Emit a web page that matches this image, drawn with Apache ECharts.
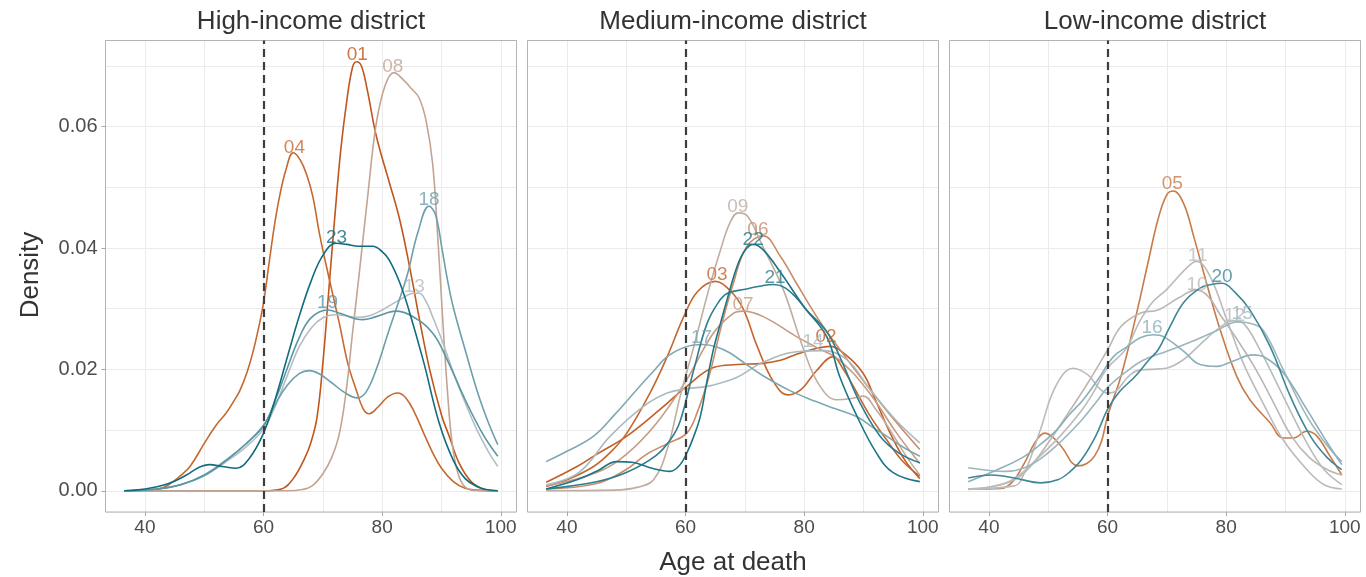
<!DOCTYPE html>
<html><head><meta charset="utf-8">
<script src="https://cdn.jsdelivr.net/npm/echarts@6/dist/echarts.min.js"></script>
<style>html,body{margin:0;padding:0;background:#fff}#c{width:1366px;height:577px}</style>
</head><body><div id="c"></div>
<script>
// ---------------- data ----------------
const panelTitles = ['High-income district', 'Medium-income district', 'Low-income district'];
const highIncome = ['01', '04', '08', '13', '18', '19', '23'];
const mediumIncome = ['02', '03', '06', '07', '09', '14', '17', '21', '22'];
const lowIncome = ['05', '10', '11', '12', '15', '16', '20'];
const xTicks = [40, 60, 80, 100];
const yTicks = [0, 0.02, 0.04, 0.06];
const thresholdAge = 60;
const xTitle = 'Age at death';
const yTitle = 'Density';

// density curves: [age, density]
const d01 = [[36.5,0],[50,0],[60,0],[63,0.0003],[65,0.002],[67,0.0055],[68,0.008],[69,0.012],[70,0.021],[71,0.033],[72,0.045],[73,0.056],[74,0.064],[75,0.0698],[75.7,0.0707],[76.5,0.0700],[77.5,0.066],[79,0.0585],[81,0.0515],[83,0.0445],[85,0.035],[86.2,0.0287],[88,0.020],[90,0.0125],[91.3,0.009],[93,0.0045],[95,0.0015],[97,0.0003],[99.5,0]];
const d04 = [[36.5,0],[42,0.0002],[44,0.001],[46,0.0025],[47.6,0.004],[50,0.0078],[52,0.0108],[53.7,0.0128],[55,0.0148],[56,0.0165],[57.2,0.0195],[58.2,0.0228],[59.2,0.027],[60,0.031],[61,0.038],[61.8,0.0435],[62.7,0.0485],[63.8,0.053],[65,0.0557],[66.2,0.0545],[67.3,0.052],[68.3,0.0485],[69.5,0.042],[71.1,0.0348],[72.8,0.0275],[74.2,0.021],[75.6,0.0167],[76.8,0.0135],[77.8,0.0127],[79.3,0.0138],[81,0.0155],[82.6,0.0161],[84,0.0153],[85.5,0.0128],[87,0.0095],[88.5,0.0063],[90,0.0037],[92,0.0015],[94,0.0004],[96,0.0001],[99.5,0]];
const d08 = [[36.5,0],[50,0],[64,0],[66.5,0.0002],[68.2,0.0008],[70,0.0028],[71.5,0.0055],[72.8,0.0095],[74,0.017],[75,0.026],[76.1,0.0355],[77.5,0.048],[79,0.0605],[80.5,0.0668],[82,0.0689],[83.5,0.0678],[85,0.0662],[86.2,0.0648],[87.4,0.061],[88.5,0.054],[89.3,0.043],[90.1,0.030],[91,0.0165],[91.8,0.0078],[92.8,0.0028],[94,0.0006],[96,0],[99.5,0]];
const d13 = [[36.5,0],[42,0.0003],[46,0.001],[50,0.0025],[54,0.005],[57,0.0072],[60,0.0102],[62,0.014],[64,0.019],[66,0.0237],[68,0.0268],[70,0.0285],[72,0.029],[76,0.0286],[78,0.0289],[80,0.0298],[83,0.0315],[85,0.0325],[86.2,0.0326],[87.5,0.031],[88.5,0.0287],[90,0.025],[92,0.0195],[94,0.0145],[96,0.010],[98,0.0063],[99.5,0.004]];
const d18 = [[36.5,0],[42,0.0003],[46,0.001],[50,0.0025],[54,0.0052],[57,0.0077],[60,0.0108],[62,0.0143],[64,0.0174],[66,0.0193],[67.7,0.0198],[69.5,0.0192],[71.5,0.0178],[73.5,0.0163],[75.8,0.0153],[77.3,0.0163],[79,0.020],[81,0.026],[82.9,0.0315],[84.3,0.0358],[86,0.0425],[87.9,0.0469],[89,0.0455],[90.1,0.0398],[91,0.0348],[92,0.0302],[94,0.0232],[96,0.0165],[98,0.011],[99.5,0.0076]];
const d19 = [[36.5,0],[42,0.0003],[46,0.001],[50,0.0026],[54,0.0053],[57,0.0077],[60,0.0107],[62,0.015],[64,0.0202],[66,0.0252],[68,0.0285],[70.8,0.0298],[73,0.0292],[76.7,0.0282],[79,0.0287],[82.3,0.0296],[85,0.0288],[88.5,0.026],[91,0.0215],[94,0.015],[97,0.0093],[99.5,0.0057]];
const d23 = [[36.5,0],[40,0.0003],[44,0.0012],[47,0.0026],[49,0.0038],[50.9,0.0043],[53,0.004],[55.4,0.0037],[57.5,0.0052],[60,0.0095],[62,0.0152],[64,0.022],[66,0.0287],[68,0.0345],[70,0.0388],[72.2,0.0408],[74,0.0406],[76,0.0403],[78.4,0.0403],[80,0.0394],[81.2,0.038],[83,0.0342],[84.5,0.0298],[87,0.0212],[89.6,0.0112],[92,0.005],[94,0.002],[96,0.0007],[97.5,0.0002],[99.5,0]];

const d02 = [[36.5,0.0014],[41.7,0.004],[45,0.006],[50.1,0.009],[55.7,0.0134],[60.2,0.0172],[64.7,0.0203],[68.7,0.0208],[73,0.021],[76,0.0215],[78.7,0.0225],[81.5,0.0233],[84.4,0.0238],[86.5,0.0228],[89.9,0.0194],[92,0.015],[94.5,0.0095],[97,0.005],[99.5,0.002]];
const d03 = [[36.5,0.0007],[40,0.0018],[44.5,0.004],[47.5,0.0065],[50.1,0.0095],[54,0.0161],[56.9,0.0221],[59.7,0.0287],[62,0.0328],[65,0.0345],[67.5,0.033],[69.7,0.030],[72,0.024],[74.8,0.018],[77.3,0.0158],[79.5,0.0167],[82,0.0197],[84.9,0.0221],[86.5,0.0202],[88.3,0.0172],[91,0.0125],[93.9,0.0084],[96.5,0.005],[99.5,0.0024]];
const d06 = [[36.5,0.0003],[45,0.0012],[50,0.0035],[53.4,0.006],[57,0.0078],[60.2,0.0095],[62,0.013],[64,0.019],[66,0.027],[68,0.034],[70.3,0.0402],[73.1,0.042],[76,0.0386],[78.7,0.0342],[82.1,0.0287],[86,0.0233],[91.1,0.0167],[95.6,0.0112],[99.5,0.0068]];
const d07 = [[36.5,0.0008],[45,0.003],[50,0.006],[55,0.011],[60,0.018],[64.7,0.026],[68,0.0292],[69.7,0.0296],[73.1,0.0287],[78.7,0.0254],[82.1,0.0236],[86,0.0215],[91.1,0.016],[95.6,0.0095],[99.5,0.0045]];
const d09 = [[36.5,0],[48,0.0001],[52,0.0006],[54.6,0.0018],[56.9,0.0068],[59.1,0.0156],[61.4,0.0238],[63.9,0.0331],[65.9,0.0397],[67.5,0.0442],[68.9,0.0458],[70.5,0.0452],[73,0.0403],[76.5,0.0331],[79.9,0.0233],[82.5,0.0175],[85.5,0.015],[88,0.0152],[90,0.0156],[92,0.0135],[94.5,0.010],[97,0.006],[99.5,0.0026]];
const d14 = [[36.5,0.001],[42,0.003],[47.3,0.009],[52.9,0.0139],[56.9,0.0161],[60.2,0.0168],[63.6,0.0172],[66,0.0178],[68.7,0.0187],[73.1,0.0212],[78.7,0.0229],[83.2,0.0231],[87.2,0.0216],[91.1,0.0167],[95.6,0.0115],[99.5,0.0079]];
const d17 = [[36.5,0.0048],[40,0.0065],[44.5,0.009],[48,0.0125],[51.8,0.0167],[54.5,0.0196],[56.9,0.0221],[60,0.0237],[63,0.0241],[65.5,0.0236],[67.5,0.0227],[70,0.021],[73,0.019],[77.6,0.0165],[82,0.0147],[85,0.0136],[88.9,0.0122],[91.5,0.0105],[93.9,0.009],[97,0.007],[99.5,0.0057]];
const d21 = [[36.5,0.0003],[45,0.0015],[50,0.003],[55,0.0058],[57.5,0.0085],[59.1,0.0115],[61.4,0.020],[63.6,0.0275],[65.5,0.031],[67,0.0325],[70,0.0332],[72.5,0.0337],[74.8,0.034],[76.5,0.0336],[78.5,0.032],[80.4,0.0298],[83.8,0.0262],[86,0.0221],[89.4,0.0145],[92.8,0.009],[96,0.0062],[99.5,0.0046]];
const d22 = [[36.5,0.0003],[41.7,0.0018],[45,0.0032],[48.4,0.0048],[51,0.0047],[54,0.0038],[57.4,0.0032],[59,0.0042],[60.2,0.0062],[61.4,0.009],[62.5,0.0123],[63.6,0.018],[64.7,0.0233],[66,0.028],[67,0.0315],[68.7,0.037],[70,0.0396],[71.4,0.0406],[73.1,0.0397],[76,0.036],[79.9,0.0304],[83.8,0.0254],[86,0.0188],[88.9,0.0123],[92.2,0.0062],[95,0.003],[99.5,0.0015]];

const d05 = [[36.5,0.0003],[42.1,0.0004],[44,0.0015],[46,0.0046],[47.8,0.008],[49.4,0.0095],[50.8,0.0088],[52.2,0.0073],[55,0.0041],[56.5,0.0045],[57.8,0.0057],[59,0.0082],[60,0.0123],[62.3,0.019],[64.6,0.028],[66.8,0.0375],[68.5,0.0447],[70,0.0488],[71.1,0.0494],[72.8,0.0474],[74.5,0.042],[76.7,0.0342],[79,0.0265],[81.8,0.0188],[84,0.015],[87.4,0.0112],[89.6,0.0087],[91.3,0.0087],[93.6,0.0098],[95.3,0.009],[97.5,0.0057],[99.5,0.0026]];
const d10 = [[36.5,0.0003],[40,0.0006],[44.3,0.0018],[47,0.004],[50,0.0079],[53.5,0.013],[56.7,0.0178],[60,0.0232],[62.3,0.0271],[65.6,0.0293],[68.5,0.0298],[72,0.0318],[75,0.0331],[77,0.032],[79,0.029],[81.8,0.025],[85,0.020],[88,0.0145],[91,0.009],[94,0.0055],[97,0.0035],[99.5,0.0026]];
const d11 = [[36.5,0.0002],[42,0.001],[45,0.0025],[48.6,0.0057],[52,0.009],[55.3,0.0128],[57.5,0.016],[59.8,0.020],[63.2,0.0235],[65.3,0.0277],[67.5,0.031],[69.9,0.0331],[73.3,0.0367],[75,0.0378],[77.3,0.0353],[80.1,0.0282],[82.9,0.021],[86.2,0.0145],[89.6,0.0084],[93.6,0.0035],[96.5,0.001],[99.5,0.0003]];
const d12 = [[36.5,0.0003],[44.3,0.0008],[46,0.003],[47.7,0.0073],[49,0.011],[50.5,0.0156],[52.5,0.0192],[54.2,0.0202],[56.7,0.0191],[58.5,0.017],[60,0.0161],[61.5,0.0165],[63.2,0.0185],[65,0.0198],[67.1,0.020],[69.9,0.0202],[72.8,0.0216],[75.5,0.024],[78.4,0.0265],[81.2,0.028],[83,0.0275],[85.7,0.0232],[89.6,0.0156],[93.6,0.0079],[96.5,0.0035],[99.5,0.001]];
const d15 = [[36.5,0.0038],[42.9,0.0032],[46,0.0038],[49,0.0055],[52,0.008],[55.5,0.0115],[58,0.0145],[60,0.017],[63,0.0195],[66,0.0215],[70,0.023],[74,0.0245],[78,0.0262],[82,0.0278],[84,0.0276],[86.2,0.0265],[89.6,0.020],[93.6,0.0123],[97,0.0075],[99.5,0.0048]];
const d16 = [[36.5,0.0015],[41.5,0.0035],[45.7,0.0055],[48.5,0.0075],[51.4,0.010],[53.5,0.0125],[55.9,0.015],[58.5,0.0185],[61,0.0221],[63.4,0.0238],[65.5,0.0252],[67.7,0.0257],[69.4,0.0254],[72.8,0.023],[75.6,0.0208],[78.4,0.0205],[81,0.0213],[84.5,0.0224],[86.5,0.022],[89.6,0.0195],[93.6,0.0134],[97,0.008],[99.5,0.0043]];
const d20 = [[36.5,0.0021],[40.4,0.0026],[44.3,0.0021],[48.8,0.0013],[51.6,0.0018],[53.5,0.003],[55.6,0.0051],[58,0.009],[60,0.0134],[62,0.0163],[64.6,0.0188],[67,0.0216],[68.5,0.0232],[70.5,0.027],[72.8,0.031],[75.6,0.0334],[77.5,0.034],[79.3,0.0342],[81.5,0.0327],[84,0.0298],[87.4,0.0238],[90.8,0.0156],[94.2,0.009],[97,0.0055],[99.5,0.0035]];

// label positions (district, age, density)
const labelDistricts = ['01','02','03','04','05','06','07','08','09','10','11','12','13','14','15','16','17','18','19','20','21','22','23'];
const labelAge =     [75.8, 83.7, 65.3, 65.2, 70.9, 72.2, 69.7, 81.8, 68.8, 75.1, 75.2, 81.4, 85.4, 81.5, 82.7, 67.5, 62.7, 87.9, 70.8, 79.3, 75.1, 71.4, 72.3];
const labelDensity = [0.0719, 0.0254, 0.0356, 0.0566, 0.0506, 0.043, 0.0307, 0.0698, 0.0468, 0.034, 0.0388, 0.0289, 0.0336, 0.0246, 0.0292, 0.0269, 0.0252, 0.048, 0.031, 0.0353, 0.0351, 0.0414, 0.0417];

// ---------------- styling ----------------
const curves = {'01':d01,'02':d02,'03':d03,'04':d04,'05':d05,'06':d06,'07':d07,'08':d08,'09':d09,'10':d10,'11':d11,'12':d12,'13':d13,'14':d14,'15':d15,'16':d16,'17':d17,'18':d18,'19':d19,'20':d20,'21':d21,'22':d22,'23':d23};
const palette = {
  '01':'#c0561c','02':'#c25e26','03':'#c4672f','04':'#c5692f','05':'#c77b48',
  '06':'#c98c68','07':'#c79b83','08':'#c3a492','09':'#c0ada1','10':'#bdb6b0',
  '11':'#bbbbbb','12':'#b8bcbe','13':'#b4bdc1','14':'#a9bac0','15':'#9db6be',
  '16':'#8cb0ba','17':'#7ea8b2','18':'#6c9fab','19':'#5b96a4','20':'#3f8697',
  '21':'#2e7e8f','22':'#1c7587','23':'#106c7e'
};
const FONT = '"Liberation Sans", Arial, sans-serif';
const xMin = 33.35, xMax = 102.65, yMin = -0.0035, yMax = 0.0742;
const gridLefts = [105.5, 527.5, 949.5];
const gridW = 411, gridTop = 40.5, gridH = 471.5;
const panels = [highIncome, mediumIncome, lowIncome];

const grids = [], xAxes = [], yAxes = [], series = [], graphics = [];
panels.forEach((list, k) => {
  grids.push({left: gridLefts[k], top: gridTop, width: gridW, height: gridH, show: true,
    borderColor: '#b3b3b3', borderWidth: 1, backgroundColor: 'transparent', z: 1});
  // main axes (index 2k)
  xAxes.push({type: 'value', gridIndex: k, min: xMin, max: xMax, position: 'bottom',
    axisLine: {show: false, onZero: false},
    axisTick: {show: true, customValues: xTicks, length: 4, lineStyle: {color: '#a6a6a6', width: 1}},
    axisLabel: {customValues: xTicks, fontSize: 19, color: '#4d4d4d', margin: 6, fontFamily: FONT},
    splitLine: {show: false}});
  // grid-line axes (index 2k+1)
  xAxes.push({type: 'value', gridIndex: k, min: xMin, max: xMax, splitNumber: 6, z: -1, position: 'top',
    axisLine: {show: false, onZero: false}, axisTick: {show: false}, axisLabel: {show: false},
    splitLine: {show: true, lineStyle: {color: '#ebebeb', width: 1}}});
  yAxes.push({type: 'value', gridIndex: k, min: yMin, max: yMax, position: 'left',
    axisLine: {show: false, onZero: false},
    axisTick: {show: k === 0, customValues: yTicks, length: 4, lineStyle: {color: '#a6a6a6', width: 1}},
    axisLabel: {show: k === 0, customValues: yTicks, fontSize: 20, color: '#4d4d4d', margin: 8,
      fontFamily: FONT, formatter: v => v.toFixed(2)},
    splitLine: {show: false}});
  yAxes.push({type: 'value', gridIndex: k, min: yMin, max: yMax, splitNumber: 8, z: -1, position: 'right',
    axisLine: {show: false, onZero: false}, axisTick: {show: false}, axisLabel: {show: false},
    splitLine: {show: true, lineStyle: {color: '#ebebeb', width: 1}}});

  list.forEach(id => {
    series.push({type: 'line', name: id, xAxisIndex: 2 * k, yAxisIndex: 2 * k,
      data: curves[id], smooth: 0.4, showSymbol: false, silent: true,
      lineStyle: {color: palette[id], width: 1.6}, z: 2});
  });
  // threshold line
  series.push({type: 'line', xAxisIndex: 2 * k, yAxisIndex: 2 * k, data: [], silent: true, z: 3,
    markLine: {symbol: 'none', silent: true, label: {show: false},
      lineStyle: {type: [8, 5], color: '#3d3d3d', width: 2.2},
      data: [{xAxis: thresholdAge}]}});
  list.forEach(id => {
    const i = labelDistricts.indexOf(id);
    series.push({type: 'scatter', xAxisIndex: 2 * k, yAxisIndex: 2 * k, silent: true, z: 4,
      symbolSize: 1, itemStyle: {color: 'rgba(0,0,0,0)'},
      data: [[labelAge[i], labelDensity[i]]],
      label: {show: true, position: 'inside', formatter: id, fontSize: 19,
        color: palette[id], fontFamily: FONT}});
  });
  graphics.push({type: 'text', x: gridLefts[k] + gridW / 2, y: 22,
    style: {text: panelTitles[k], font: '26px ' + FONT, fill: '#333', textAlign: 'center', textVerticalAlign: 'middle'}});
});
graphics.push({type: 'text', x: 733, y: 563,
  style: {text: xTitle, font: '26px ' + FONT, fill: '#333', textAlign: 'center', textVerticalAlign: 'middle'}});
graphics.push({type: 'text', x: 31, y: 275, rotation: Math.PI / 2,
  style: {text: yTitle, font: '26px ' + FONT, fill: '#333', textAlign: 'center', textVerticalAlign: 'middle'}});

const chart = echarts.init(document.getElementById('c'), null, {renderer: 'canvas'});
chart.setOption({
  animation: false,
  backgroundColor: '#fff',
  grid: grids, xAxis: xAxes, yAxis: yAxes, series: series, graphic: graphics
});
</script></body></html>
